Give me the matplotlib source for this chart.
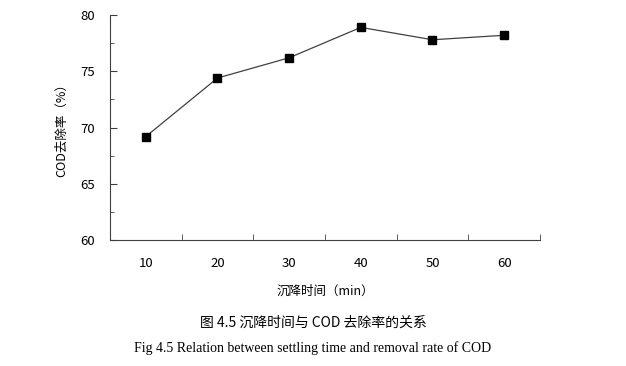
import matplotlib.pyplot as plt
from matplotlib.ticker import MultipleLocator, FixedLocator

# settling time (min) and COD removal rate (%)
times = ['10', '20', '30', '40', '50', '60']
cod_removal = [69.2, 74.4, 76.2, 78.9, 77.8, 78.2]

cjk = ['Noto Sans CJK SC', 'DejaVu Sans']
plt.rcParams['font.family'] = cjk

fig = plt.figure(figsize=(6.26, 3.66), dpi=100)
ax = fig.add_axes([0.1757, 0.344, 0.6869, 0.615])

x = list(range(len(times)))
ax.plot(x, cod_removal, color='#404040', linewidth=0.9,
        marker='s', markersize=6, markerfacecolor='black', markeredgecolor='black')

ax.set_xlim(-0.5, len(times) - 0.5)
ax.set_ylim(60, 80)
ax.yaxis.set_major_locator(MultipleLocator(5))
ax.yaxis.set_minor_locator(MultipleLocator(2.5))
ax.set_xticks(x)
ax.set_xticklabels(times)
ax.xaxis.set_minor_locator(FixedLocator([i + 0.5 for i in x]))

ax.spines['top'].set_visible(False)
ax.spines['right'].set_visible(False)
for s in ['left', 'bottom']:
    ax.spines[s].set_color('#404040')
    ax.spines[s].set_linewidth(0.8)

ax.tick_params(axis='x', which='major', length=0, pad=12, labelsize=9.5)
ax.tick_params(axis='x', which='minor', direction='in', length=4, color='#404040')
ax.tick_params(axis='y', which='major', direction='in', length=5, labelsize=9.5, pad=11, color='#404040')
ax.tick_params(axis='y', which='minor', direction='in', length=3, color='#404040')

ax.set_ylabel('COD去除率（%）', fontsize=9, labelpad=9)
ax.set_xlabel('沉降时间（min）', fontsize=9, labelpad=11)

fig.text(0.5, 0.118, '图 4.5 沉降时间与 COD 去除率的关系', ha='center', va='center',
         fontsize=10, family=cjk)
fig.text(0.5, 0.05, 'Fig 4.5 Relation between settling time and removal rate of COD',
         ha='center', va='center', fontsize=10, family='Liberation Serif')

fig.savefig('out.png', dpi=100)
